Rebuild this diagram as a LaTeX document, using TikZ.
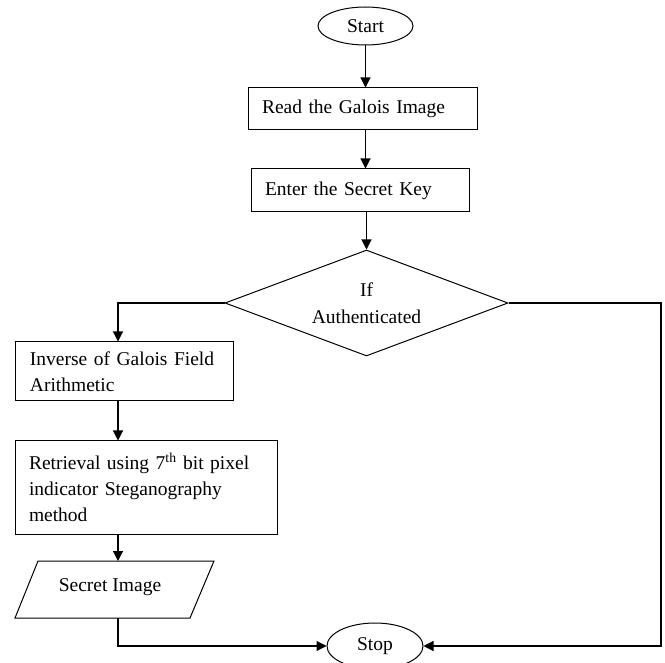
\documentclass[tikz,border=0pt]{standalone}
\usepackage{fontspec}
\setmainfont{Liberation Serif}
\usetikzlibrary{shapes.geometric,arrows.meta}
\begin{document}
\begin{tikzpicture}[x=1pt,y=-1pt,
  every node/.style={font=\fontsize{19.5}{26}\selectfont},
  line/.style={draw=black,line width=1.1pt},
  arr/.style={line,-{Triangle[length=10pt,width=10pt]}},
  term/.style={ellipse,draw,line width=1pt,inner sep=0pt},
  procbox/.style={rectangle,draw,line width=1pt,align=left,inner ysep=0pt,inner xsep=#1},
  procbox/.default=14pt,
  decide/.style={diamond,draw,line width=1pt,inner sep=0pt,aspect=2.67,align=center}
]
\useasboundingbox (0,0) rectangle (665,663);
\clip (0,0) rectangle (665,663);

\node[term,minimum width=95pt,minimum height=38pt] (start) at (365.5,26) {Start};
\node[procbox,text width=201pt,minimum height=42pt] (read) at (362.5,109) {Read the Galois Image};
\node[procbox,text width=190pt,minimum height=43pt] (enter) at (360,190.5) {Enter the Secret Key};
\node[decide,minimum width=283pt,minimum height=106pt] (dec) at (366.5,303) {If\\[1pt]Authenticated};
\node[procbox=15pt,text width=188pt,minimum height=59pt] (inv) at (124,371.5) {Inverse of Galois Field\\Arithmetic};
\node[procbox,text width=234pt,minimum height=93pt] (ret) at (146,487.5) {Retrieval using 7\textsuperscript{th} bit pixel\\indicator Steganography\\method};
\draw[line width=1pt] (38,561) -- (214,561) -- (190,618) -- (15,618) -- cycle;
\node (secret) at (110,587) {Secret Image};
\node[term,minimum width=96pt,minimum height=46pt] (stop) at (375,646) {Stop};

\coordinate (lcol) at (118,0);
\coordinate (rcol) at (661,0);
\coordinate (sectop) at (118,561);
\coordinate (secbot) at (118,618);

\draw[arr] (start.south) -- (start.south |- read.north);
\draw[arr] (start.south |- read.south) -- (start.south |- enter.north);
\draw[arr] (dec.north |- enter.south) -- (dec.north);
\draw[arr] (dec.west) -| (lcol |- inv.north);
\draw[arr] (lcol |- inv.south) -- (lcol |- ret.north);
\draw[arr] (lcol |- ret.south) -- (sectop);
\draw[arr] (secbot) |- (stop.west);
\draw[arr] (dec.east) -| (rcol |- stop.east) -- (stop.east);
\end{tikzpicture}
\end{document}
